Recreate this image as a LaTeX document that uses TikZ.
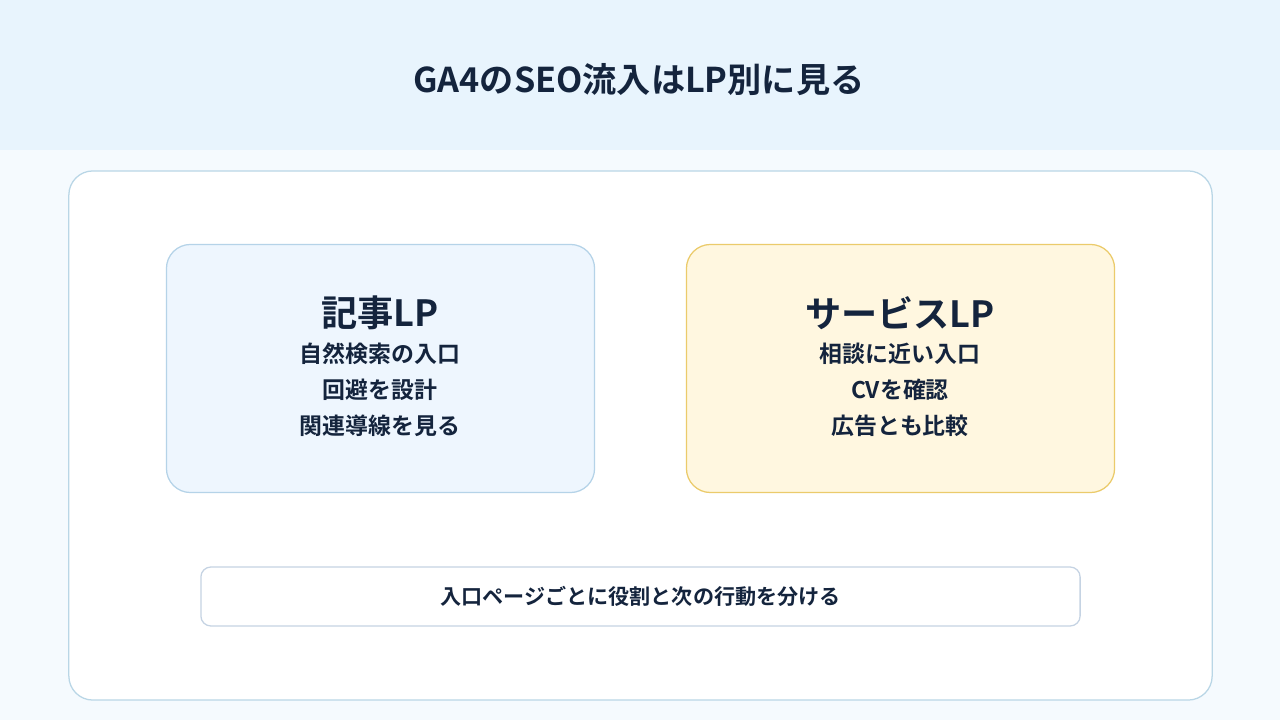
\documentclass[tikz,border=0pt]{standalone}
\usepackage{fontspec}
\setmainfont{Noto Sans CJK JP}[BoldFont={Noto Sans CJK JP Bold}]
\usetikzlibrary{positioning}
\definecolor{inkblue}{HTML}{14243D}
\definecolor{headbg}{HTML}{E8F4FD}
\definecolor{pagebg}{HTML}{F5FAFE}
\definecolor{frameline}{HTML}{B9D6E6}
\definecolor{artfill}{HTML}{EEF6FE}
\definecolor{artline}{HTML}{B5D3E8}
\definecolor{svcfill}{HTML}{FFF7E0}
\definecolor{svcline}{HTML}{EBCB6B}
\definecolor{noteline}{HTML}{C5D3E3}

\begin{document}
\begin{tikzpicture}[
    x=0.025cm, y=-0.025cm,
    lpbox/.style={rectangle, rounded corners=0.6cm, line width=0.9pt, minimum width=10.7cm, minimum height=6.2cm},
    lptitle/.style={font=\bfseries\fontsize{25.7}{30}\selectfont, text=inkblue},
    lpline/.style={font=\bfseries\fontsize{16.3}{25.5}\selectfont, text=inkblue, align=center}
]
    % background and header band
    \fill[pagebg] (0,0) rectangle (1280,720);
    \fill[headbg] (0,0) rectangle (1280,150);
    \useasboundingbox (0,0) rectangle (1280,720);
    \node[font=\bfseries\fontsize{24.3}{28}\selectfont, text=inkblue] (title) at (639,80) {GA4のSEO流入はLP別に見る};

    % outer frame
    \node[rectangle, draw=frameline, fill=white, rounded corners=0.6cm, line width=0.9pt,
          minimum width=28.575cm, minimum height=13.225cm] (frame) at (640.5,435.5) {};

    % the two landing page boxes
    \node[lpbox, draw=artline, fill=artfill] (article) at (380.5,368.5) {};
    \node[lpbox, draw=svcline, fill=svcfill] (service) at (900.5,368.5) {};

    \node[lptitle] (arttitle) at (380,313) {記事LP};
    \node[lpline] (arttext) at (380,390) {自然検索の入口\\回避を設計\\関連導線を見る};
    \node[lptitle] (svctitle) at (900,313) {サービスLP};
    \node[lpline] (svctext) at (900,390) {相談に近い入口\\CVを確認\\広告とも比較};

    % note at the bottom
    \node[rectangle, draw=noteline, fill=white, rounded corners=0.25cm, line width=0.9pt,
          minimum width=21.975cm, minimum height=1.475cm,
          font=\bfseries\fontsize{15}{17}\selectfont, text=inkblue] (note) at (640.5,596.5)
          {入口ページごとに役割と次の行動を分ける};
\end{tikzpicture}
\end{document}
